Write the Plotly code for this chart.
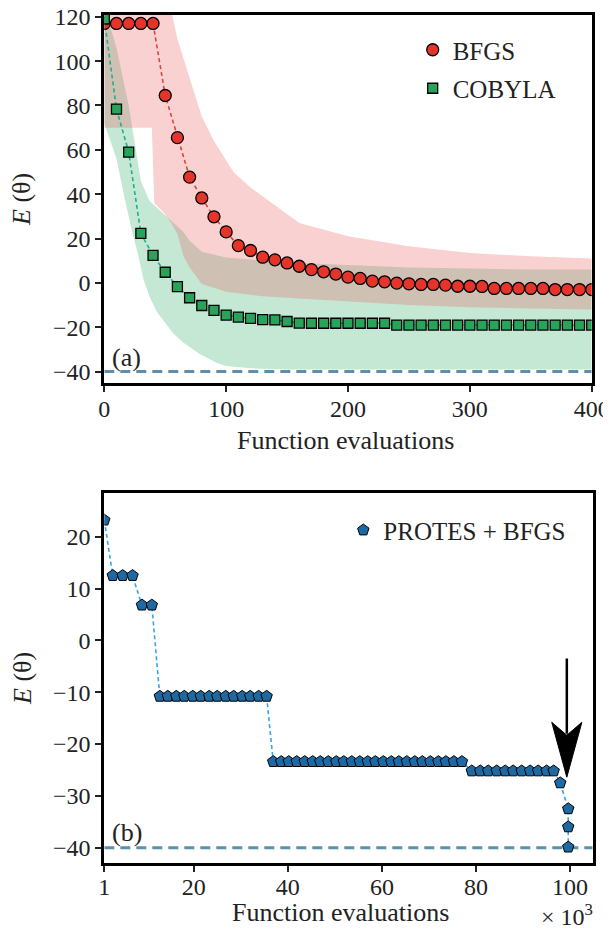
import plotly.graph_objects as go

# ---------------- data: panel (a) ----------------
evals_a = [0, 10, 20, 30, 40, 50, 60, 70, 80, 90, 100, 110, 120, 130, 140, 150, 160, 170, 180, 190,
           200, 210, 220, 230, 240, 250, 260, 270, 280, 290, 300, 310, 320, 330, 340, 350, 360, 370,
           380, 390, 400]
bfgs_mean = [117, 117, 117, 117, 117, 84.5, 65.5, 47.7, 38.3, 29.8, 23, 16.8, 14.6, 11.6, 10.4, 9,
             7.5, 6, 5, 4, 2.6, 2, 0.8, 0.5, -0.1, -0.4, -0.7, -0.7, -1, -1.5, -1.5, -1.6, -2.5,
             -2.5, -2.5, -2.5, -2.5, -3, -3, -3, -3]
cobyla_mean = [119, 78.4, 59, 22.3, 12.4, 4.8, -1.7, -6.7, -10.2, -12.4, -14.5, -15.4, -16, -16.6,
               -16.7, -17.4, -18.1, -18.2, -18.2, -18.2, -18.2, -18.2, -18.2, -18.2, -19, -19, -19,
               -19, -19, -19, -19, -19, -19, -19, -19, -19, -19, -19, -19, -19, -19]

bfgs_up_x = [0, 54, 60, 70, 80, 90, 100, 106, 120, 150, 160, 200, 250, 300, 350, 400]
bfgs_up = [125, 125, 110, 92, 75, 64, 55, 50, 43, 31, 27, 21, 16.5, 13.5, 12, 11]
bfgs_lo_x = [0, 39, 41, 50, 55, 60, 65, 70, 80, 100, 130, 160, 200, 250, 300, 350, 400]
bfgs_lo = [70, 70, 36, 31, 27, 22, 12, 7, -0.5, -4, -6, -7, -8.5, -10, -11, -11.5, -12]

cob_up_x = [0, 10, 20, 25, 30, 37, 45, 55, 65, 70, 80, 100, 130, 160, 200, 250, 300, 350, 400]
cob_up = [125, 106, 80, 62, 46, 37, 33, 28, 23, 19, 14, 11.5, 10, 9, 8, 7, 6.5, 6, 6]
cob_lo_x = [0, 10, 16, 22, 28, 32, 37, 43, 50, 57, 65, 78, 92, 100, 120, 150, 400]
cob_lo = [72, 56, 40, 25, 12, 2, -6, -13, -18, -23, -27, -32, -36, -37.5, -38.5, -39, -39]

E_EXACT = -40

# ---------------- data: panel (b) ----------------
evals_b = [1, 2.8, 4.9, 7.0, 9.0, 11.1,
           12.8, 14.5, 16.3, 18.0, 19.8, 21.5, 23.3, 25.0, 26.8, 28.5, 30.3, 32.0, 33.8, 35.5,
           36.9, 38.6, 40.2, 41.9, 43.6, 45.3, 46.9, 48.6, 50.3, 51.9, 53.6, 55.3, 57.0, 58.6,
           60.3, 62.0, 63.6, 65.3, 67.0, 68.6, 70.3, 72.0, 73.6, 75.3, 77.0,
           79.1, 80.9, 82.6, 84.4, 86.2, 87.9, 89.7, 91.5, 93.2, 95.0, 96.5,
           97.9, 99.6, 99.6, 99.6]
protes_energy = [23.2, 12.5, 12.5, 12.5, 6.8, 6.8,
                 -10.8, -10.8, -10.8, -10.8, -10.8, -10.8, -10.8, -10.8, -10.8, -10.8, -10.8,
                 -10.8, -10.8, -10.8,
                 -23.4, -23.4, -23.4, -23.4, -23.4, -23.4, -23.4, -23.4, -23.4, -23.4, -23.4,
                 -23.4, -23.4, -23.4, -23.4, -23.4, -23.4, -23.4, -23.4, -23.4, -23.4, -23.4,
                 -23.4, -23.4, -23.4,
                 -25.2, -25.2, -25.2, -25.2, -25.2, -25.2, -25.2, -25.2, -25.2, -25.2, -25.2,
                 -27.5, -32.5, -36.0, -39.9]

ticks_ax = [0, 100, 200, 300, 400]
ticks_ay = [-40, -20, 0, 20, 40, 60, 80, 100, 120]
ticks_bx = [1, 20, 40, 60, 80, 100]
ticks_by = [-40, -30, -20, -10, 0, 10, 20]

FONT = "Liberation Serif"
FS_TICK, FS_TITLE, FS_LEG = 24, 26, 25

# the page body adds an 8 px offset; the figure fills the rest of the window
OFF = 8
W, H = 611 - OFF, 935 - OFF


def fx(p):
    return (p - OFF) / W


def fy(p):
    return 1 - (p - OFF) / H


fig = go.Figure()

# bands
fig.add_trace(go.Scatter(x=cob_up_x + cob_lo_x[::-1], y=cob_up + cob_lo[::-1], fill="toself",
                         fillcolor="rgba(60,179,113,0.30)", line=dict(width=0), mode="lines",
                         showlegend=False, hoverinfo="skip", xaxis="x", yaxis="y"))
fig.add_trace(go.Scatter(x=bfgs_up_x + bfgs_lo_x[::-1], y=bfgs_up + bfgs_lo[::-1], fill="toself",
                         fillcolor="rgba(235,90,90,0.28)", line=dict(width=0), mode="lines",
                         showlegend=False, hoverinfo="skip", xaxis="x", yaxis="y"))

# reference energy lines
for xa, ya, xr in [("x", "y", [0, 400]), ("x2", "y2", [1, 104.8])]:
    fig.add_trace(go.Scatter(x=xr, y=[E_EXACT, E_EXACT], mode="lines",
                             line=dict(color="#5e8fa8", width=3, dash="10px,6px"),
                             showlegend=False, hoverinfo="skip", xaxis=xa, yaxis=ya))

# dashed connecting lines
fig.add_trace(go.Scatter(x=evals_a, y=cobyla_mean, mode="lines",
                         line=dict(color="#1fae8c", width=1.6, dash="4px,3px"),
                         showlegend=False, xaxis="x", yaxis="y"))
fig.add_trace(go.Scatter(x=evals_a, y=bfgs_mean, mode="lines",
                         line=dict(color="#d9473d", width=1.6, dash="4px,3px"),
                         showlegend=False, xaxis="x", yaxis="y"))

# markers
fig.add_trace(go.Scatter(x=evals_a, y=bfgs_mean, mode="markers", name="BFGS",
                         marker=dict(symbol="circle", size=12, color="#e5352b",
                                     line=dict(color="black", width=1.3)),
                         legend="legend", legendgroup="a", xaxis="x", yaxis="y"))
fig.add_trace(go.Scatter(x=evals_a, y=cobyla_mean, mode="markers", name="COBYLA",
                         marker=dict(symbol="square", size=10, color="#27a35a",
                                     line=dict(color="black", width=1.3)),
                         legend="legend", legendgroup="b", xaxis="x", yaxis="y"))

fig.add_trace(go.Scatter(x=evals_b, y=protes_energy, mode="lines",
                         line=dict(color="#3aa5e6", width=1.6, dash="4px,3px"),
                         showlegend=False, xaxis="x2", yaxis="y2"))
fig.add_trace(go.Scatter(x=evals_b, y=protes_energy, mode="markers", name="PROTES + BFGS",
                         marker=dict(symbol="pentagon", size=12, color="#1f69a3",
                                     line=dict(color="black", width=1)),
                         legend="legend2", xaxis="x2", yaxis="y2"))

axis_common = dict(showline=True, linewidth=3, linecolor="black", mirror=True, showgrid=False,
                   zeroline=False, ticks="outside", ticklen=6, tickwidth=1.5, tickcolor="#222",
                   automargin=False, ticklabeloverflow="allow",
                   tickfont=dict(family=FONT, size=FS_TICK, color="#222"))

fig.update_layout(
    template="none",
    width=W, height=H, margin=dict(l=0, r=0, t=0, b=0, pad=0, autoexpand=False),
    paper_bgcolor="white", plot_bgcolor="white",
    xaxis=dict(domain=[fx(104.3), fx(591.7)], range=[0, 400], tickvals=ticks_ax,
               anchor="y", ticklabelstandoff=-4, **axis_common),
    yaxis=dict(domain=[fy(382.7), fy(15)], range=[-45, 120.8], tickvals=ticks_ay,
               anchor="x", ticklabelstandoff=0, **axis_common),
    xaxis2=dict(domain=[fx(104.3), fx(592.7)], range=[1, 104.8], tickvals=ticks_bx,
                anchor="y2", ticklabelstandoff=-6, **axis_common),
    yaxis2=dict(domain=[fy(862.7), fy(492.7)], range=[-42.9, 28.5], tickvals=ticks_by,
                anchor="x2", ticklabelstandoff=0, **axis_common),
    legend=dict(x=fx(412.7), y=fy(27), xanchor="left", yanchor="top", bgcolor="rgba(0,0,0,0)",
                font=dict(family=FONT, size=FS_LEG, color="#222"), tracegroupgap=3,
                traceorder="grouped"),
    legend2=dict(x=fx(343.3), y=fy(507.3), xanchor="left", yanchor="top",
                 bgcolor="rgba(0,0,0,0)", font=dict(family=FONT, size=FS_LEG, color="#222")),
    font=dict(family=FONT, size=FS_TICK, color="#222"),
)

ann = dict(showarrow=False, xref="paper", yref="paper", yanchor="middle")
tfont = dict(family=FONT, size=FS_TITLE, color="#222")
fig.add_annotation(text="<i>E</i> (θ)", x=fx(22), y=fy(199), textangle=-90, xanchor="center",
                   font=tfont, **ann)
fig.add_annotation(text="<i>E</i> (θ)", x=fx(22), y=fy(678), textangle=-90, xanchor="center",
                   font=tfont, **ann)
fig.add_annotation(text="Function evaluations", x=fx(345), y=fy(440), xanchor="center",
                   font=tfont, **ann)
fig.add_annotation(text="Function evaluations", x=fx(340), y=fy(912), xanchor="center",
                   font=tfont, **ann)
fig.add_annotation(text="(a)", x=fx(110), y=fy(357), xanchor="left", font=tfont, **ann)
fig.add_annotation(text="(b)", x=fx(110), y=fy(832), xanchor="left", font=tfont, **ann)
fig.add_annotation(text="× 10<sup>3</sup>", x=fx(567), y=fy(915), xanchor="center",
                   font=dict(family=FONT, size=FS_TICK, color="#222"), **ann)

# arrow pointing at the final PROTES + BFGS point
fig.add_shape(type="line", xref="x2", yref="y2", x0=99.3, x1=99.3, y0=-3.5, y1=-18,
              line=dict(color="black", width=2.5))
fig.add_shape(type="path", xref="x2", yref="y2",
              path="M 96.1,-15.8 L 99.3,-18.3 L 102.5,-15.8 L 99.3,-26.4 Z",
              fillcolor="black", line=dict(color="black", width=1))

fig.write_html("out.html")
